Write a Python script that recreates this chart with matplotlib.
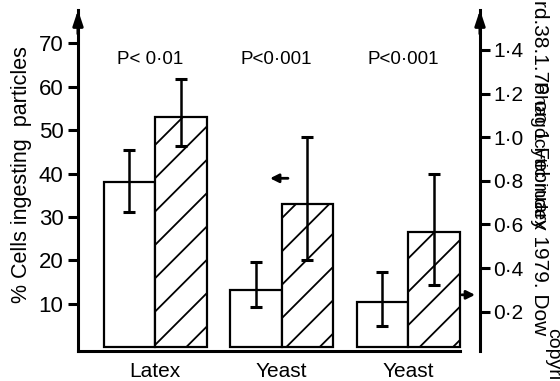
import matplotlib
matplotlib.use('Agg')
import matplotlib.pyplot as plt

plt.rcParams['font.family'] = ['Liberation Sans', 'DejaVu Sans']
plt.rcParams['hatch.linewidth'] = 1.3

categories = ['Latex', 'Yeast', 'Yeast']
control = [38.1, 13.2, 10.5]
control_hi = [45.4, 19.7, 17.4]
control_lo = [31.2, 9.2, 4.9]
treated = [52.9, 33.1, 26.6]
treated_hi = [61.7, 48.5, 40.0]
treated_lo = [46.3, 20.1, 14.4]
p_labels = ['P< 0·01', 'P<0·001', 'P<0·001']
left_ticks = [10, 20, 30, 40, 50, 60, 70]
right_ticks = [0.2, 0.4, 0.6, 0.8, 1.0, 1.2, 1.4]
right_tick_labels = ['0·2', '0·4', '0·6', '0·8', '1·0', '1·2', '1·4']

W, H = 560, 381
fig = plt.figure(figsize=(W / 100, H / 100), dpi=100)
ax = fig.add_axes([78 / W, (H - 350.5) / H, 402 / W, 340.5 / H])
ax.patch.set_alpha(0)

x = list(range(len(categories)))
bw = 0.407
ctrl_err = [[c - lo for c, lo in zip(control, control_lo)],
            [hi - c for c, hi in zip(control, control_hi)]]
trt_err = [[t - lo for t, lo in zip(treated, treated_lo)],
           [hi - t for t, hi in zip(treated, treated_hi)]]

ekw = dict(elinewidth=1.8, capsize=4, capthick=2.2, ecolor='black')
ax.bar([i - bw / 2 for i in x], control, width=bw, facecolor='white',
       edgecolor='black', linewidth=1.6, yerr=ctrl_err, error_kw=ekw, zorder=2)
ax.bar([i + bw / 2 for i in x], treated, width=bw, facecolor='white',
       edgecolor='black', linewidth=1.6, hatch='/', yerr=trt_err,
       error_kw=ekw, zorder=2)

ax.set_xlim(-0.609, 2.569)
ax.set_ylim(-0.7, 77.6)

for i, p in zip(x, p_labels):
    ax.text(i - 0.04, 66.3, p, ha='center', va='center', fontsize=13.5)

# arrows indicating which axis each series uses
ax.annotate('', xy=(0.909, 38.9), xytext=(1.051, 38.9),
            arrowprops=dict(arrowstyle='-|>,head_length=0.5,head_width=0.25',
                            color='black', lw=2, shrinkA=0, shrinkB=0))
ax.annotate('', xy=(2.53, 12.1), xytext=(2.425, 12.1),
            arrowprops=dict(arrowstyle='-|>,head_length=0.5,head_width=0.25',
                            color='black', lw=2, shrinkA=0, shrinkB=0),
            annotation_clip=False)

ax.set_xticks(x)
ax.set_xticklabels(categories, fontsize=15)
ax.tick_params(axis='x', length=0, pad=8)
ax.set_yticks(left_ticks)
ax.set_yticklabels([str(t) for t in left_ticks], fontsize=16)
ax.tick_params(axis='y', direction='out', length=7.5, width=2.2, pad=3)

for s in ['top', 'right']:
    ax.spines[s].set_visible(False)
ax.spines['left'].set_linewidth(2.2)
ax.spines['bottom'].set_linewidth(2.2)
ax.spines['bottom'].set_bounds(-0.609, 2.41)

ax2 = ax.twinx()
ax2.set_ylim(0.022, 1.583)
ax2.set_yticks(right_ticks)
ax2.set_yticklabels(right_tick_labels, fontsize=15)
ax2.tick_params(axis='y', direction='out', length=7.5, width=2.2, pad=2)
for s in ['top', 'left', 'bottom']:
    ax2.spines[s].set_visible(False)
ax2.spines['right'].set_linewidth(2.2)

for xa in (0, 1):
    ax.annotate('', xy=(xa, 1.0), xytext=(xa, 0.93), xycoords='axes fraction',
                arrowprops=dict(arrowstyle='-|>,head_length=0.9,head_width=0.3',
                                color='black', lw=2.2, shrinkA=0, shrinkB=0),
                annotation_clip=False)

fig.text(22 / W, 1 - 175 / H, '% Cells ingesting  particles', rotation=90,
         ha='center', va='center', fontsize=15.5)

# right side label and watermark (overlapping, as in the reference)
fig.text(539 / W, 1 - 155 / H, 'Phagocytic index', rotation=270,
         ha='center', va='center', fontsize=14)
fig.text(539 / W, 1.0, 'rd.38.1.76 on 1 February 1979. Dow',
         rotation=270, ha='center', va='top', fontsize=15)
fig.text(553 / W, 1 - 328 / H, 'copyri', rotation=270,
         ha='center', va='top', fontsize=14)

fig.savefig('out.png', dpi=100)
